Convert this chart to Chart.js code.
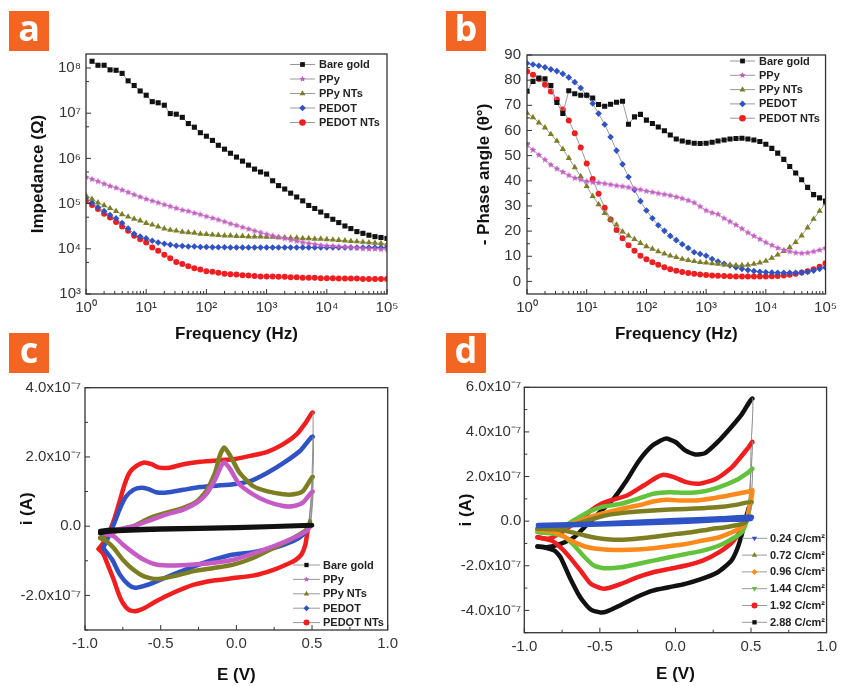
<!DOCTYPE html>
<html>
<head>
<meta charset="utf-8">
<script src="https://cdn.jsdelivr.net/npm/chart.js@4.4.1/dist/chart.umd.min.js"></script>
<style>
  body { margin: 0; background: #fff; width: 842px; height: 686px; position: relative; overflow: hidden; }
  canvas { position: absolute; }
  .tag { position: absolute; width: 40px; height: 40px; background: #f26522; color: #fff;
         font: bold 36px "Open Sans", "DejaVu Sans", sans-serif; line-height: 34px; text-align: center; z-index: 2; }
</style>
</head>
<body>
<div class="tag" style="left:9px;top:11px">a</div>
<div class="tag" style="left:446px;top:11px">b</div>
<div class="tag" style="left:9px;top:333px">c</div>
<div class="tag" style="left:446px;top:333px">d</div>
<canvas id="chartA" width="421" height="310" style="left:0;top:40px"></canvas>
<canvas id="chartB" width="421" height="310" style="left:421px;top:40px"></canvas>
<canvas id="chartC" width="421" height="316" style="left:0;top:370px"></canvas>
<canvas id="chartD" width="421" height="316" style="left:421px;top:370px"></canvas>
<script>
const FONT = '"Liberation Sans", Arial, sans-serif';

// ---- panel a / b : impedance spectra, 10 points per decade ----
const freq = [1, 1.26, 1.58, 2, 2.51, 3.16, 3.98, 5.01, 6.31, 7.94,
  10, 12.6, 15.8, 20, 25.1, 31.6, 39.8, 50.1, 63.1, 79.4,
  100, 126, 158, 200, 251, 316, 398, 501, 631, 794,
  1000, 1260, 1580, 2000, 2510, 3160, 3980, 5010, 6310, 7940,
  10000, 12600, 15800, 20000, 25100, 31600, 39800, 50100, 63100, 79400, 100000];

const seriesNames = ['Bare gold', 'PPy', 'PPy NTs', 'PEDOT', 'PEDOT NTs'];

// |Z| in ohm
const zBareGold = [null, 1.41e8, 1.15e8, 1.15e8, 9.1e7, 8.9e7, 7.6e7, 5.2e7, 4.1e7, 3.1e7, 2.5e7,
  1.8e7, 1.7e7, 1.5e7, 9.8e6, 9.5e6, 8.1e6, 5.9e6, 4.9e6, 3.7e6, 3.1e6,
  2.5e6, 1.95e6, 1.6e6, 1.3e6, 1.07e6, 8.7e5, 7.1e5, 5.8e5, 5.0e5, 4.5e5,
  3.2e5, 2.5e5, 2.1e5, 1.7e5, 1.4e5, 1.15e5, 9.1e4, 7.8e4, 6.5e4, 5.4e4,
  4.5e4, 3.8e4, 3.2e4, 2.8e4, 2.4e4, 2.2e4, 2.0e4, 1.86e4, 1.78e4, 1.7e4];
const zPPy = [3.9e5, 3.47e5, 3.1e5, 2.75e5, 2.45e5, 2.24e5, 2.0e5, 1.78e5, 1.58e5, 1.41e5, 1.26e5,
  1.15e5, 1.05e5, 9.5e4, 8.7e4, 7.9e4, 7.2e4, 6.8e4, 6.2e4, 5.75e4, 5.2e4,
  4.8e4, 4.4e4, 4.0e4, 3.6e4, 3.3e4, 3.0e4, 2.75e4, 2.5e4, 2.3e4, 2.1e4,
  1.95e4, 1.82e4, 1.7e4, 1.58e4, 1.48e4, 1.38e4, 1.32e4, 1.26e4, 1.2e4, 1.17e4,
  1.15e4, 1.12e4, 1.1e4, 1.07e4, 1.05e4, 1.02e4, 1.0e4, 1.0e4, 9.8e3, 9.8e3];
const zPPyNTs = [1.51e5, 1.26e5, 1.05e5, 9.1e4, 7.9e4, 6.8e4, 5.75e4, 5.1e4, 4.6e4, 4.2e4, 3.7e4,
  3.4e4, 3.1e4, 2.8e4, 2.6e4, 2.5e4, 2.37e4, 2.3e4, 2.24e4, 2.14e4, 2.1e4,
  2.04e4, 2.0e4, 1.95e4, 1.95e4, 1.9e4, 1.9e4, 1.86e4, 1.86e4, 1.86e4, 1.82e4,
  1.82e4, 1.78e4, 1.78e4, 1.74e4, 1.74e4, 1.7e4, 1.7e4, 1.66e4, 1.66e4, 1.62e4,
  1.58e4, 1.55e4, 1.51e4, 1.48e4, 1.45e4, 1.41e4, 1.38e4, 1.35e4, 1.32e4, 1.26e4];
const zPEDOT = [1.35e5, 1.05e5, 8.3e4, 6.8e4, 5.6e4, 4.7e4, 3.7e4, 2.8e4, 2.14e4, 1.86e4, 1.7e4,
  1.51e4, 1.38e4, 1.29e4, 1.23e4, 1.17e4, 1.15e4, 1.12e4, 1.12e4, 1.1e4, 1.1e4,
  1.08e4, 1.08e4, 1.08e4, 1.07e4, 1.07e4, 1.07e4, 1.07e4, 1.07e4, 1.07e4, 1.07e4,
  1.07e4, 1.07e4, 1.07e4, 1.07e4, 1.07e4, 1.07e4, 1.07e4, 1.07e4, 1.07e4, 1.07e4,
  1.07e4, 1.07e4, 1.07e4, 1.07e4, 1.07e4, 1.07e4, 1.07e4, 1.07e4, 1.07e4, 1.07e4];
const zPEDOTNTs = [1.15e5, 9.3e4, 7.6e4, 6.0e4, 4.9e4, 3.9e4, 3.1e4, 2.5e4, 1.95e4, 1.62e4, 1.38e4,
  1.07e4, 9.1e3, 7.4e3, 6.2e3, 5.1e3, 4.6e3, 4.1e3, 3.7e3, 3.5e3, 3.2e3,
  3.1e3, 2.95e3, 2.8e3, 2.75e3, 2.7e3, 2.6e3, 2.57e3, 2.5e3, 2.45e3, 2.45e3,
  2.45e3, 2.4e3, 2.4e3, 2.35e3, 2.35e3, 2.3e3, 2.3e3, 2.3e3, 2.24e3, 2.24e3,
  2.24e3, 2.2e3, 2.2e3, 2.2e3, 2.2e3, 2.14e3, 2.14e3, 2.14e3, 2.14e3, 2.14e3];

// -phase in degrees
const phBareGold = [75.6, 79.5, 80.8, 80.5, 77.9, 71.1, 66.8, 75.8, 74.6, 74.0, 74.0,
  72.9, 70.3, 69.6, 70.4, 71.2, 71.6, 62.5, 65.4, 66.4, 64.1,
  62.8, 61.4, 59.9, 58.2, 56.6, 55.8, 55.3, 54.9, 54.8, 54.9,
  55.3, 55.8, 56.2, 56.6, 56.8, 56.9, 56.6, 56.2, 55.6, 54.5,
  52.9, 51.0, 48.5, 45.7, 43.1, 40.4, 37.4, 34.5, 33.2, 31.9];
const phPPy = [54.3, 52.3, 50.3, 48.4, 46.4, 44.8, 43.5, 42.2, 41.1, 40.5, 39.8,
  39.4, 39.2, 38.9, 38.5, 38.1, 37.8, 37.4, 36.9, 36.5, 35.9,
  35.5, 35.0, 34.6, 34.2, 33.6, 33.0, 32.2, 31.3, 29.8, 28.2,
  27.3, 26.7, 25.1, 23.8, 22.5, 21.0, 19.4, 18.1, 16.8, 15.5,
  14.4, 13.3, 12.5, 11.9, 11.4, 11.2, 11.4, 11.9, 12.5, 13.3];
const phPPyNTs = [67.0, 65.2, 63.1, 61.1, 58.5, 55.8, 52.6, 49.0, 45.3, 41.8, 37.8,
  33.9, 30.6, 27.1, 24.7, 22.5, 19.8, 18.2, 16.8, 15.2, 13.9,
  12.9, 11.9, 11.0, 10.2, 9.6, 8.9, 8.4, 8.0, 7.6, 7.4,
  7.1, 6.9, 6.6, 6.5, 6.4, 6.4, 6.5, 6.9, 7.4, 8.1,
  9.3, 10.6, 12.0, 13.5, 15.6, 18.2, 21.4, 24.8, 28.0, 31.0];
const phPEDOT = [86.7, 86.2, 85.7, 85.1, 84.3, 83.6, 82.5, 81.1, 79.2, 76.9, 74.0,
  70.7, 66.7, 62.4, 57.4, 52.0, 46.6, 41.5, 36.4, 31.9, 28.2,
  25.1, 22.3, 20.1, 18.1, 16.4, 14.8, 13.3, 11.6, 10.9, 10.2,
  8.9, 7.9, 7.0, 6.3, 5.6, 5.0, 4.5, 4.1, 3.8, 3.6,
  3.5, 3.4, 3.4, 3.4, 3.4, 3.5, 3.8, 4.3, 5.0, 5.5];
const phPEDOTNTs = [83.4, 82.1, 80.5, 78.2, 75.5, 72.3, 68.3, 64.0, 58.9, 53.2, 46.9,
  40.7, 34.8, 29.3, 24.6, 20.4, 17.2, 14.4, 12.2, 10.2, 8.8,
  7.6, 6.6, 5.6, 4.8, 4.2, 3.7, 3.3, 3.0, 2.8, 2.6,
  2.4, 2.3, 2.2, 2.1, 2.0, 2.0, 2.0, 2.0, 2.0, 2.0,
  2.1, 2.2, 2.4, 2.7, 3.0, 3.5, 4.0, 4.8, 5.8, 7.2];

// ---- panel c / d : cyclic voltammograms, [E (V), i (x1e-7 A)] ----
const cvBareGold = [[-0.9, -0.14], [-0.85, -0.11], [-0.5, -0.07], [0, -0.03], [0.5, 0.03],
  [0.5, 0.02], [0, -0.05], [-0.5, -0.1], [-0.85, -0.16], [-0.9, -0.2]];
const cvPPy = [[-0.9, -0.19], [-0.79, -0.1], [-0.68, 0], [-0.57, 0.17], [-0.46, 0.34], [-0.35, 0.48],
  [-0.26, 0.68], [-0.2, 0.92], [-0.14, 1.35], [-0.1, 1.74], [-0.08, 1.84], [-0.04, 1.64], [0.02, 1.21],
  [0.11, 0.92], [0.2, 0.72], [0.31, 0.58], [0.38, 0.58], [0.44, 0.68], [0.505, 1.0],
  [0.5, 0.48], [0.487, 0], [0.465, -0.14], [0.377, -0.34], [0.245, -0.58], [0.11, -0.79], [-0.02, -0.97],
  [-0.15, -1.06], [-0.28, -1.11], [-0.42, -1.14], [-0.53, -1.11], [-0.61, -0.97], [-0.68, -0.77],
  [-0.75, -0.53], [-0.81, -0.29], [-0.9, -0.19]];
const cvPPyNTs = [[-0.9, -0.34], [-0.79, -0.14], [-0.68, 0], [-0.57, 0.24], [-0.46, 0.39], [-0.35, 0.53],
  [-0.26, 0.72], [-0.2, 1.01], [-0.14, 1.55], [-0.11, 2.03], [-0.08, 2.27], [-0.04, 2.03], [0.02, 1.55],
  [0.11, 1.16], [0.2, 1.01], [0.31, 0.92], [0.38, 0.92], [0.44, 1.01], [0.505, 1.42],
  [0.5, 0.68], [0.487, 0.14], [0.465, -0.1], [0.377, -0.34], [0.245, -0.63], [0.11, -0.92], [-0.02, -1.11],
  [-0.15, -1.21], [-0.28, -1.3], [-0.42, -1.45], [-0.53, -1.53], [-0.61, -1.45], [-0.68, -1.26],
  [-0.75, -0.97], [-0.81, -0.63], [-0.86, -0.43], [-0.9, -0.34]];
const cvPEDOT = [[-0.88, -0.63], [-0.85, -0.35], [-0.81, 0.05], [-0.77, 0.5], [-0.73, 0.85], [-0.68, 1.05],
  [-0.63, 1.11], [-0.58, 1.07], [-0.53, 0.98], [-0.46, 0.97], [-0.35, 1.05], [-0.24, 1.13], [-0.13, 1.17],
  [-0.02, 1.21], [0.09, 1.3], [0.2, 1.53], [0.31, 1.82], [0.42, 2.17], [0.505, 2.58],
  [0.5, 0.9], [0.487, 0.4], [0.476, 0], [0.443, -0.24], [0.377, -0.43], [0.245, -0.63], [0.11, -0.75],
  [-0.02, -0.82], [-0.15, -0.97], [-0.28, -1.16], [-0.42, -1.4], [-0.55, -1.64], [-0.62, -1.74],
  [-0.67, -1.78], [-0.71, -1.7], [-0.77, -1.4], [-0.82, -0.97], [-0.88, -0.63]];
const cvPEDOTNTs = [[-0.91, -0.66], [-0.87, -0.43], [-0.837, -0.14], [-0.804, 0.24], [-0.771, 0.72],
  [-0.738, 1.21], [-0.705, 1.55], [-0.66, 1.74], [-0.61, 1.84], [-0.56, 1.79], [-0.51, 1.69], [-0.44, 1.69],
  [-0.35, 1.79], [-0.24, 1.86], [-0.13, 1.9], [-0.02, 1.93], [0.09, 2.03], [0.2, 2.14], [0.31, 2.37],
  [0.4, 2.66], [0.46, 3.0], [0.505, 3.28],
  [0.5, 1.45], [0.49, 0.6], [0.475, 0], [0.465, -0.3], [0.455, -0.55], [0.43, -0.82], [0.39, -0.98],
  [0.35, -1.07], [0.245, -1.26], [0.11, -1.43], [-0.02, -1.5], [-0.15, -1.57], [-0.28, -1.69],
  [-0.42, -1.93], [-0.53, -2.17], [-0.61, -2.37], [-0.67, -2.46], [-0.71, -2.42], [-0.75, -2.22],
  [-0.78, -1.93], [-0.81, -1.55], [-0.85, -1.11], [-0.88, -0.79], [-0.91, -0.66]];

const chargeNames = ['0.24 C/cm²', '0.72 C/cm²', '0.96 C/cm²', '1.44 C/cm²', '1.92 C/cm²', '2.88 C/cm²'];
const cv024 = [[-0.91, -0.17], [-0.5, -0.1], [0, 0.05], [0.3, 0.13], [0.505, 0.2],
  [0.5, 0.1], [0.3, 0.05], [0, -0.05], [-0.5, -0.15], [-0.91, -0.22]];
const cv072 = [[-0.913, -0.34], [-0.8, -0.34], [-0.69, -0.19], [-0.58, 0.03], [-0.47, 0.25], [-0.36, 0.36],
  [-0.25, 0.43], [-0.146, 0.48], [-0.04, 0.52], [0.07, 0.55], [0.18, 0.58], [0.29, 0.63], [0.4, 0.73],
  [0.505, 0.85],
  [0.48, 0.2], [0.465, -0.05], [0.42, -0.16], [0.33, -0.27], [0.22, -0.37], [0.115, -0.49], [0.007, -0.57],
  [-0.1, -0.67], [-0.21, -0.76], [-0.32, -0.82], [-0.43, -0.82], [-0.515, -0.76], [-0.6, -0.64],
  [-0.69, -0.49], [-0.78, -0.37], [-0.913, -0.34]];
const cv096 = [[-0.913, -0.37], [-0.8, -0.46], [-0.71, -0.19], [-0.6, 0.1], [-0.49, 0.33], [-0.36, 0.55],
  [-0.25, 0.7], [-0.146, 0.88], [-0.06, 0.96], [0.03, 0.93], [0.14, 0.93], [0.25, 1.03], [0.35, 1.15],
  [0.485, 1.33], [0.51, 1.38],
  [0.48, 0.3], [0.465, 0], [0.44, -0.27], [0.376, -0.49], [0.29, -0.72], [0.18, -0.87], [0.07, -1.02],
  [-0.04, -1.12], [-0.146, -1.21], [-0.25, -1.27], [-0.36, -1.29], [-0.47, -1.27], [-0.58, -1.17],
  [-0.67, -0.94], [-0.73, -0.72], [-0.8, -0.49], [-0.913, -0.37]];
const cv144 = [[-0.913, -0.49], [-0.8, -0.49], [-0.69, -0.04], [-0.58, 0.4], [-0.49, 0.63], [-0.36, 0.78],
  [-0.25, 1.0], [-0.146, 1.23], [-0.04, 1.3], [0.07, 1.27], [0.18, 1.33], [0.29, 1.53], [0.4, 1.83],
  [0.485, 2.2], [0.51, 2.35],
  [0.5, 1.0], [0.47, 0], [0.44, -0.49], [0.376, -0.79], [0.29, -1.09], [0.18, -1.32], [0.07, -1.47],
  [-0.04, -1.62], [-0.146, -1.77], [-0.25, -1.92], [-0.36, -2.07], [-0.47, -2.11], [-0.54, -1.99],
  [-0.6, -1.62], [-0.67, -1.09], [-0.73, -0.72], [-0.8, -0.57], [-0.913, -0.49]];
const cv192 = [[-0.913, -0.72], [-0.84, -0.79], [-0.75, -0.49], [-0.69, -0.19], [-0.62, 0.1], [-0.56, 0.48],
  [-0.49, 0.78], [-0.43, 0.93], [-0.32, 1.15], [-0.21, 1.6], [-0.12, 1.98], [-0.08, 2.08], [-0.015, 1.98],
  [0.07, 1.75], [0.16, 1.68], [0.27, 1.9], [0.376, 2.43], [0.485, 3.32], [0.51, 3.55],
  [0.493, 1.53], [0.48, 0.6], [0.465, 0], [0.44, -0.34], [0.376, -0.94], [0.29, -1.39], [0.18, -1.77],
  [0.07, -1.99], [-0.04, -2.14], [-0.146, -2.29], [-0.25, -2.51], [-0.36, -2.81], [-0.45, -3.01],
  [-0.49, -3.01], [-0.56, -2.81], [-0.62, -2.29], [-0.69, -1.69], [-0.75, -1.24], [-0.82, -0.87],
  [-0.913, -0.72]];
const cv288 = [[-0.913, -1.14], [-0.85, -1.17], [-0.76, -1.02], [-0.67, -0.72], [-0.59, -0.19], [-0.5, 0.4],
  [-0.41, 1.0], [-0.33, 1.75], [-0.24, 2.72], [-0.15, 3.4], [-0.065, 3.7], [0, 3.55], [0.065, 3.17],
  [0.13, 2.99], [0.196, 3.05], [0.28, 3.55], [0.37, 4.22], [0.435, 4.75], [0.51, 5.49],
  [0.5, 3.3], [0.495, 1.5], [0.485, 0.6], [0.467, 0.18], [0.446, -0.42], [0.413, -1.17], [0.37, -1.77],
  [0.28, -2.29], [0.174, -2.59], [0.065, -2.81], [-0.043, -2.96], [-0.15, -3.11], [-0.26, -3.41],
  [-0.37, -3.79], [-0.457, -4.06], [-0.5, -4.09], [-0.565, -3.94], [-0.63, -3.41], [-0.7, -2.51],
  [-0.76, -1.62], [-0.8, -1.32], [-0.87, -1.17], [-0.913, -1.14]];

// ---- tick values and labels ----
const aYTicks = [1e3, 1e4, 1e5, 1e6, 1e7, 1e8];
const aYLabels = ['10³', '10⁴', '10⁵', '10⁶', '10⁷', '10⁸'];
const aYMinor = [5e3, 5e4, 5e5, 5e6, 5e7];
const fTicks = [1, 10, 100, 1000, 10000, 100000];
const fLabels = ['10⁰', '10¹', '10²', '10³', '10⁴', '10⁵'];
const bYTicks = [0, 10, 20, 30, 40, 50, 60, 70, 80, 90];
const bYLabels = ['0', '10', '20', '30', '40', '50', '60', '70', '80', '90'];
const bYMinor = [5, 15, 25, 35, 45, 55, 65, 75, 85];
const eTicks = [-1, -0.5, 0, 0.5, 1];
const eLabels = ['-1.0', '-0.5', '0.0', '0.5', '1.0'];
const eMinor = [-0.75, -0.25, 0.25, 0.75];
const cYTicks = [-2, 0, 2, 4];
const cYLabels = ['-2.0x10⁻⁷', '0.0', '2.0x10⁻⁷', '4.0x10⁻⁷'];
const cYMinor = [-3, -1, 1, 3];
const dYTicks = [-4, -2, 0, 2, 4, 6];
const dYLabels = ['-4.0x10⁻⁷', '-2.0x10⁻⁷', '0.0', '2.0x10⁻⁷', '4.0x10⁻⁷', '6.0x10⁻⁷'];
const dYMinor = [-5, -3, -1, 1, 3, 5];

const logMinor = [];
for (let d = 1; d < 100000; d *= 10) for (let m = 2; m <= 9; m++) logMinor.push(m * d);

// colours / markers
const colBlack = '#111111', colPink = '#c65bc6', colOlive = '#7d7d22', colBlue = '#2f52c4', colRed = '#f01e1e';
const colOrange = '#ff8a1c', colGreen = '#62c23c';

function drawMarker(ctx, style, x, y, r, color) {
  ctx.fillStyle = color;
  ctx.beginPath();
  if (style === 'rect') {
    ctx.rect(x - r * 0.72, y - r * 0.72, r * 1.44, r * 1.44);
  } else if (style === 'circle') {
    ctx.arc(x, y, r, 0, Math.PI * 2);
  } else if (style === 'triangle' || style === 'triangleDown') {
    const s = style === 'triangle' ? 1 : -1;
    ctx.moveTo(x, y - s * r);
    ctx.lineTo(x + r * 0.9, y + s * r * 0.55);
    ctx.lineTo(x - r * 0.9, y + s * r * 0.55);
    ctx.closePath();
  } else if (style === 'rectRot') {
    ctx.moveTo(x, y - r); ctx.lineTo(x + r, y); ctx.lineTo(x, y + r); ctx.lineTo(x - r, y); ctx.closePath();
  } else if (style === 'star') {
    for (let k = 0; k < 10; k++) {
      const rr = k % 2 ? r * 0.45 : r;
      const a = -Math.PI / 2 + k * Math.PI / 5;
      ctx[k ? 'lineTo' : 'moveTo'](x + rr * Math.cos(a), y + rr * Math.sin(a));
    }
    ctx.closePath();
  }
  ctx.fill();
}

function starImage(color, r) {
  const c = document.createElement('canvas');
  c.width = c.height = Math.ceil(r * 2 + 2);
  drawMarker(c.getContext('2d'), 'star', c.width / 2, c.height / 2, r, color);
  return c;
}

// frame, inward ticks and the legend
const framePlugin = {
  id: 'frame',
  afterDraw(chart, args, o) {
    const { ctx, chartArea: a } = chart;
    const xs = chart.scales.x, ys = chart.scales.y;
    ctx.save();
    ctx.strokeStyle = '#333';
    ctx.lineWidth = 1.3;
    ctx.strokeRect(a.left, a.top, a.right - a.left, a.bottom - a.top);
    ctx.lineWidth = 1;
    ctx.beginPath();
    o.xMajor.forEach(v => { const p = xs.getPixelForValue(v); ctx.moveTo(p, a.bottom); ctx.lineTo(p, a.bottom - 5); });
    o.xMinor.forEach(v => { const p = xs.getPixelForValue(v); ctx.moveTo(p, a.bottom); ctx.lineTo(p, a.bottom - 3); });
    o.yMajor.forEach(v => { const p = ys.getPixelForValue(v); ctx.moveTo(a.left, p); ctx.lineTo(a.left + 5, p); });
    o.yMinor.forEach(v => { const p = ys.getPixelForValue(v); ctx.moveTo(a.left, p); ctx.lineTo(a.left + 3, p); });
    ctx.stroke();

    const L = o.legend;
    ctx.font = 'bold 11px ' + FONT;
    ctx.textBaseline = 'middle';
    chart.data.datasets.forEach((ds, i) => {
      const y = L.y0 + i * L.dy;
      ctx.strokeStyle = '#999';
      ctx.beginPath(); ctx.moveTo(L.x0, y); ctx.lineTo(L.x1, y); ctx.stroke();
      drawMarker(ctx, ds.marker, L.mx, y, L.r, ds.markerColor);
      ctx.fillStyle = '#222';
      ctx.fillText(ds.label, L.tx, y + 0.5);
    });
    ctx.restore();
  }
};

function axis(o) {
  return {
    type: o.type || 'linear', min: o.min, max: o.max,
    grid: { display: false, drawTicks: false }, border: { display: false },
    afterFit: s => { if (o.w) s.width = o.w; if (o.h) s.height = o.h; },
    afterBuildTicks: s => { s.ticks = o.ticks.map(v => ({ value: v })); },
    ticks: { autoSkip: false, maxRotation: 0, padding: o.pad, color: '#333',
      font: { size: 15, family: FONT }, callback: (v, i) => o.labels[i] },
    title: { display: true, text: o.title, color: '#111', font: { size: 17, weight: 'bold', family: FONT },
      padding: o.titlePad }
  };
}

function baseOptions(p) {
  return {
    responsive: false, animation: false, events: [],
    layout: { padding: { left: 0, top: p.top, right: p.right, bottom: 0 } },
    plugins: { legend: { display: false }, tooltip: { enabled: false }, frame: p.frame },
    scales: { x: axis(p.x), y: axis(p.y) }
  };
}

// ---------- panel a ----------
function eisSet(label, values, marker, color, r) {
  return {
    label, marker, markerColor: color,
    data: freq.map((f, i) => ({ x: f, y: values[i] })),
    showLine: true, borderColor: '#9a9a9a', borderWidth: 1, spanGaps: true,
    pointStyle: marker === 'star' ? starImage(color, r) : marker,
    pointRadius: r, pointBackgroundColor: color, pointBorderColor: color, pointBorderWidth: 0
  };
}

new Chart(document.getElementById('chartA'), {
  type: 'scatter',
  data: { datasets: [
    eisSet(seriesNames[0], zBareGold, 'rect', colBlack, 3.6),
    eisSet(seriesNames[1], zPPy, 'star', colPink, 3.6),
    eisSet(seriesNames[2], zPPyNTs, 'triangle', colOlive, 3.6),
    eisSet(seriesNames[3], zPEDOT, 'rectRot', colBlue, 3.3),
    eisSet(seriesNames[4], zPEDOTNTs, 'circle', colRed, 3)
  ] },
  options: baseOptions({
    top: 13, right: 34,
    x: { type: 'logarithmic', min: 1, max: 1e5, h: 56, ticks: fTicks, labels: fLabels, pad: 5,
      title: 'Frequency (Hz)', titlePad: { top: 0, bottom: 5 } },
    y: { type: 'logarithmic', min: 1e3, max: 2.04e8, w: 86, ticks: aYTicks, labels: aYLabels, pad: 5,
      title: 'Impedance (Ω)', titlePad: { top: 28, bottom: 0 } },
    frame: { xMajor: fTicks, xMinor: logMinor, yMajor: aYTicks, yMinor: aYMinor,
      legend: { x0: 290, x1: 315, mx: 302.5, tx: 319, y0: 24.5, dy: 14.5, r: 3.3 } }
  }),
  plugins: [framePlugin]
});

// ---------- panel b ----------
new Chart(document.getElementById('chartB'), {
  type: 'scatter',
  data: { datasets: [
    eisSet(seriesNames[0], phBareGold, 'rect', colBlack, 3.6),
    eisSet(seriesNames[1], phPPy, 'star', colPink, 3.6),
    eisSet(seriesNames[2], phPPyNTs, 'triangle', colOlive, 3.6),
    eisSet(seriesNames[3], phPEDOT, 'rectRot', colBlue, 3.3),
    eisSet(seriesNames[4], phPEDOTNTs, 'circle', colRed, 3)
  ] },
  options: baseOptions({
    top: 13, right: 14,
    x: { type: 'logarithmic', min: 1, max: 1e5, h: 56, ticks: fTicks, labels: fLabels, pad: 5,
      title: 'Frequency (Hz)', titlePad: { top: 0, bottom: 5 } },
    y: { min: -5, max: 90, w: 106, ticks: bYTicks, labels: bYLabels, pad: 6,
      title: '- Phase angle (θ°)', titlePad: { top: 53, bottom: 0 } },
    frame: { xMajor: fTicks, xMinor: logMinor, yMajor: bYTicks, yMinor: bYMinor,
      legend: { x0: 309, x1: 334, mx: 321.5, tx: 338, y0: 21, dy: 14.3, r: 3.3 } }
  }),
  plugins: [framePlugin]
});

// ---------- panels c / d ----------
// the fast current jump at the switching potential is a thin grey connector in the original
const steep = c => Math.abs(c.p1.y - c.p0.y) > 12 && Math.abs(c.p1.x - c.p0.x) < 4;
function cvSet(label, pairs, marker, color) {
  return {
    label, marker, markerColor: color,
    data: pairs.map(p => ({ x: p[0], y: p[1] })),
    showLine: true, borderColor: color, borderWidth: 4.5, tension: 0.2,
    borderJoinStyle: 'round', borderCapStyle: 'round', pointRadius: 0,
    segment: { borderColor: c => steep(c) ? '#8a8a8a' : undefined, borderWidth: c => steep(c) ? 1 : undefined }
  };
}

new Chart(document.getElementById('chartC'), {
  type: 'scatter',
  data: { datasets: [
    cvSet(seriesNames[0], cvBareGold, 'rect', colBlack),
    cvSet(seriesNames[1], cvPPy, 'star', colPink),
    cvSet(seriesNames[2], cvPPyNTs, 'triangle', colOlive),
    cvSet(seriesNames[3], cvPEDOT, 'rectRot', colBlue),
    cvSet(seriesNames[4], cvPEDOTNTs, 'circle', colRed)
  ] },
  options: baseOptions({
    top: 17.7, right: 33.3,
    x: { min: -1, max: 1, h: 56, ticks: eTicks, labels: eLabels, pad: 5,
      title: 'E (V)', titlePad: { top: 0, bottom: 0 } },
    y: { min: -3, max: 4, w: 85, ticks: cYTicks, labels: cYLabels, pad: 4,
      title: 'i (A)', titlePad: { top: 17, bottom: 0 } },
    frame: { xMajor: eTicks, xMinor: eMinor, yMajor: cYTicks, yMinor: cYMinor,
      legend: { x0: 293, x1: 320, mx: 306.5, tx: 323, y0: 195, dy: 14.4, r: 3 } }
  }),
  plugins: [framePlugin]
});

new Chart(document.getElementById('chartD'), {
  type: 'scatter',
  data: { datasets: [
    cvSet(chargeNames[0], cv024, 'triangleDown', colBlue),
    cvSet(chargeNames[1], cv072, 'triangle', colOlive),
    cvSet(chargeNames[2], cv096, 'rectRot', colOrange),
    cvSet(chargeNames[3], cv144, 'triangleDown', colGreen),
    cvSet(chargeNames[4], cv192, 'circle', colRed),
    cvSet(chargeNames[5], cv288, 'rect', colBlack)
  ] },
  options: baseOptions({
    top: 17.3, right: 11,
    x: { min: -1, max: 1, h: 53.3, ticks: eTicks, labels: eLabels, pad: 5,
      title: 'E (V)', titlePad: { top: 0, bottom: 1 } },
    y: { min: -5, max: 6, w: 103.3, ticks: dYTicks, labels: dYLabels, pad: 3,
      title: 'i (A)', titlePad: { top: 35, bottom: 0 } },
    frame: { xMajor: eTicks, xMinor: eMinor, yMajor: dYTicks, yMinor: dYMinor,
      legend: { x0: 321, x1: 346, mx: 333.5, tx: 349, y0: 168.3, dy: 16.8, r: 3 } }
  }),
  plugins: [framePlugin]
});
</script>
</body>
</html>
